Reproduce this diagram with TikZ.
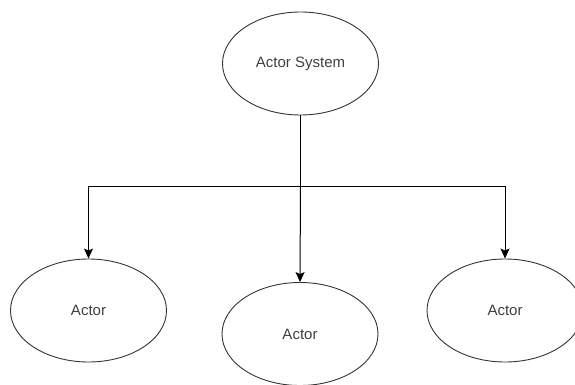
\documentclass[tikz,border=0pt]{standalone}
\usepackage{fontspec}
\setmainfont{Liberation Sans}
\usetikzlibrary{shapes.geometric, arrows.meta}

\begin{document}
\begin{tikzpicture}[x=1pt, y=-1pt]
				\tikzstyle{every node} = [font=\fontsize{15}{18}\selectfont, text=black!75]
				% Setup the style for the actors
				\tikzset{actor style/.style={ellipse,
											draw=black!80,
											line width=0.9pt,
											inner sep=0pt,
											minimum width=156pt,
											minimum height=103pt}}
				\useasboundingbox (0, 0) rectangle (575, 385);
				\clip (0, 0) rectangle (575, 385);
				% Draw the actors
				\node[actor style] at (300.5, 63.5)  (sys)   {Actor System};
				\node[actor style] at (88.5, 310.5)  (left)  {Actor};
				\node[actor style] at (300, 334)     (mid)   {Actor};
				\node[actor style] at (505, 310.5)   (right) {Actor};
				\coordinate (split) at (300.5, 186.5);
				% Connect the actors with arrows
				\draw[line width=1pt, draw=black,
					  -{Stealth[length=10pt, width=9pt, inset=2pt]}]
					(sys.south) -- (split) -| (left.north);
				\draw[line width=1pt, draw=black,
					  -{Stealth[length=10pt, width=9pt, inset=2pt]}]
					(split) -| (right.north);
				\draw[line width=1pt, draw=black,
					  -{Stealth[length=10pt, width=9pt, inset=2pt]}]
					(split) -- (mid.north);
			\end{tikzpicture}
\end{document}
